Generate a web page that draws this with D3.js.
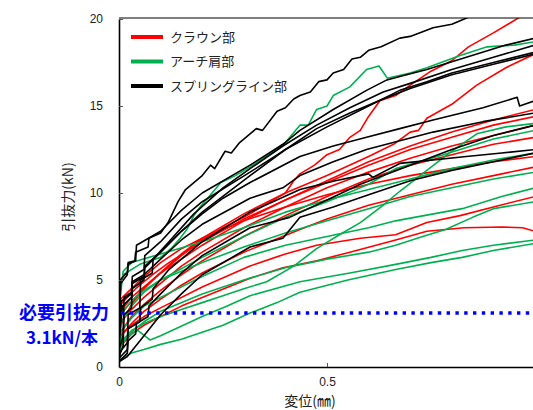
<!DOCTYPE html>
<html>
<head>
<meta charset="utf-8">
<script src="https://cdn.jsdelivr.net/npm/d3@7"></script>
<style>
  body { margin: 0; background: #fff; }
  svg { display: block; }
</style>
</head>
<body>
<div id="wrapper"></div>
<script>
// 変位(mm) と 引抜力(kN) の読み取り値
const crown1 = [[0,0.2],[0.004,2.4],[0.015,2.9],[0.03,3.6],[0.06,4.5],[0.1,5.4],[0.15,6.4],[0.2,7.3],[0.25,8.0],[0.3,8.6],[0.35,9.3],[0.4,10.0],[0.42,10.7],[0.435,11.1],[0.47,11.6],[0.5,12.2],[0.53,12.5],[0.555,13.2],[0.58,13.6],[0.6,14.4],[0.627,15.3],[0.665,15.6],[0.7,16.2],[0.75,17.0],[0.8,17.6],[0.84,18.4],[0.9,19.2],[0.97,20.2]];
const crown2 = [[0,0.5],[0.004,3.0],[0.02,3.5],[0.04,4.0],[0.08,5.0],[0.15,6.5],[0.2,7.4],[0.3,8.8],[0.4,10.0],[0.5,11.0],[0.6,12.1],[0.66,12.8],[0.7,13.5],[0.72,13.6],[0.74,14.3],[0.8,15.1],[0.86,16.2],[0.93,17.2],[1.0,18.0]];
const crown3 = [[0,0.4],[0.004,3.2],[0.03,4.0],[0.06,4.6],[0.1,5.4],[0.15,6.2],[0.2,7.0],[0.3,8.4],[0.4,9.6],[0.5,10.7],[0.6,11.8],[0.7,12.7],[0.8,13.5],[0.9,14.2],[1.0,14.8]];
const crown4 = [[0,0.8],[0.004,3.6],[0.04,4.5],[0.08,5.3],[0.12,6.0],[0.2,7.2],[0.3,8.5],[0.4,9.6],[0.5,10.6],[0.6,11.6],[0.7,12.5],[0.8,13.2],[0.9,13.9],[1.0,14.4]];
const crown5 = [[0,0.2],[0.004,2.6],[0.03,3.3],[0.06,4.0],[0.1,4.8],[0.15,5.8],[0.2,6.6],[0.3,8.0],[0.4,9.2],[0.5,10.3],[0.6,11.2],[0.7,12.0],[0.8,12.7],[0.9,13.3],[1.0,13.9]];
const crown6 = [[0,0.6],[0.004,2.0],[0.03,2.9],[0.06,3.6],[0.1,4.4],[0.15,5.3],[0.2,6.1],[0.3,7.5],[0.4,8.7],[0.5,9.8],[0.6,10.8],[0.7,11.6],[0.8,12.2],[0.9,12.8],[1.0,13.2]];
const crown7 = [[0,1.0],[0.004,3.9],[0.03,4.5],[0.06,5.2],[0.1,6.0],[0.15,6.8],[0.2,7.4],[0.3,8.4],[0.4,9.2],[0.5,9.9],[0.6,10.5],[0.7,11.0],[0.8,11.4],[0.9,11.8],[1.0,12.1]];
const crown8 = [[0,0.3],[0.004,1.8],[0.03,2.5],[0.06,3.2],[0.1,3.9],[0.15,4.7],[0.2,5.4],[0.3,6.6],[0.435,7.9],[0.5,8.5],[0.6,9.3],[0.7,9.9],[0.8,10.5],[0.9,11.0],[1.0,11.5]];
const crown9 = [[0,0.5],[0.004,1.8],[0.03,2.4],[0.06,2.9],[0.1,3.4],[0.2,4.6],[0.315,5.8],[0.4,6.5],[0.475,7.0],[0.58,7.4],[0.665,7.6],[0.74,8.3],[0.82,8.7],[0.9,9.2],[1.0,9.8]];
const crown10 = [[0,0.3],[0.004,1.2],[0.03,1.9],[0.06,2.4],[0.1,2.9],[0.15,3.5],[0.2,4.0],[0.315,5.1],[0.394,5.7],[0.475,6.1],[0.555,6.6],[0.665,7.3],[0.74,7.8],[0.83,8.0],[0.92,8.05],[0.97,8.0],[1.0,7.8]];

const arch1 = [[0,0.5],[0.003,4.5],[0.01,5.3],[0.05,5.9],[0.1,6.3],[0.125,6.8],[0.147,7.4],[0.163,7.9],[0.18,8.7],[0.195,9.2],[0.22,9.9],[0.245,10.6],[0.28,11.0],[0.315,11.5],[0.36,12.2],[0.4,12.9],[0.435,13.9],[0.455,13.9],[0.475,14.8],[0.5,15.0],[0.515,15.6],[0.555,16.1],[0.595,17.1],[0.625,17.3],[0.645,16.6],[0.7,16.9],[0.74,17.2],[0.82,17.9],[0.885,18.4],[0.95,18.5],[1.0,18.7]];
const arch2 = [[0,0.3],[0.004,1.4],[0.03,2.1],[0.06,2.5],[0.1,2.9],[0.15,3.3],[0.2,3.7],[0.25,4.1],[0.3,4.5],[0.355,4.9],[0.42,5.8],[0.475,6.8],[0.53,7.6],[0.58,8.3],[0.63,9.2],[0.675,10.1],[0.74,11.3],[0.8,12.4],[0.86,13.4],[0.93,13.8],[1.0,14.0]];
const arch3 = [[0,0.5],[0.004,2.5],[0.03,3.5],[0.06,4.3],[0.1,5.0],[0.2,6.3],[0.3,7.5],[0.4,8.6],[0.5,9.5],[0.6,10.5],[0.665,11.4],[0.78,12.2],[0.9,13.1],[1.0,13.6]];
const arch4 = [[0,0.8],[0.003,4.0],[0.01,5.5],[0.03,6.0],[0.1,6.5],[0.2,7.2],[0.3,8.0],[0.4,8.9],[0.5,9.6],[0.6,10.2],[0.7,10.8],[0.8,11.4],[0.9,11.9],[1.0,12.3]];
const arch5 = [[0,0.6],[0.004,3.0],[0.03,3.8],[0.06,4.4],[0.1,5.0],[0.2,6.0],[0.3,6.9],[0.4,7.7],[0.5,8.4],[0.6,9.1],[0.7,9.8],[0.8,10.3],[0.9,10.8],[1.0,11.2]];
const arch6 = [[0,0.4],[0.004,2.0],[0.03,2.8],[0.06,3.5],[0.1,4.0],[0.2,5.2],[0.3,6.3],[0.4,7.0],[0.5,7.5],[0.6,8.0],[0.665,8.4],[0.71,8.6],[0.825,9.1],[0.92,9.8],[1.0,10.3]];
const arch7 = [[0,0.2],[0.004,1.2],[0.03,2.0],[0.06,2.6],[0.1,3.2],[0.2,4.2],[0.3,5.0],[0.4,5.7],[0.5,6.2],[0.6,6.6],[0.665,7.0],[0.73,7.5],[0.785,7.9],[0.85,8.6],[0.9,9.1],[1.0,9.5]];
const arch8 = [[0,0.5],[0.004,1.3],[0.03,1.9],[0.045,2.1],[0.075,1.55],[0.1,1.8],[0.2,2.9],[0.26,3.5],[0.315,4.1],[0.435,4.9],[0.555,5.4],[0.665,5.9],[0.75,6.3],[0.825,6.7],[0.9,7.0],[1.0,7.3]];
const arch9 = [[0,0.4],[0.03,0.8],[0.06,1.0],[0.1,1.3],[0.15,1.6],[0.2,2.0],[0.25,2.4],[0.315,3.1],[0.38,3.7],[0.435,4.3],[0.55,5.0],[0.665,5.6],[0.75,6.0],[0.825,6.3],[0.9,6.7],[1.0,7.1]];

const spring1 = [[0,0.5],[0.003,5.0],[0.014,5.3],[0.02,5.4],[0.022,6.0],[0.038,6.1],[0.04,6.6],[0.07,6.9],[0.072,7.4],[0.1,7.7],[0.118,8.3],[0.142,9.5],[0.16,10.2],[0.2,11.0],[0.22,11.6],[0.23,11.4],[0.255,12.4],[0.27,12.3],[0.29,12.9],[0.315,13.4],[0.33,13.7],[0.345,13.6],[0.38,14.7],[0.4,14.9],[0.42,15.4],[0.435,15.6],[0.46,15.8],[0.48,16.4],[0.5,16.5],[0.515,16.9],[0.54,17.1],[0.56,17.7],[0.58,17.8],[0.6,18.2],[0.63,18.4],[0.675,18.9],[0.7,19.0],[0.755,19.5],[0.8,19.7],[0.84,20.1]];
const spring2 = [[0,2.0],[0.004,4.8],[0.02,5.3],[0.022,5.9],[0.04,6.1],[0.042,7.0],[0.1,7.8],[0.15,9.0],[0.2,10.0],[0.315,11.6],[0.394,12.8],[0.435,13.6],[0.515,14.8],[0.595,15.9],[0.644,16.5],[0.675,16.7],[0.74,17.1],[0.835,17.8],[0.93,18.5],[1.0,18.9]];
const spring3 = [[0,1.0],[0.01,1.8],[0.012,4.0],[0.03,4.3],[0.032,5.2],[0.06,5.6],[0.062,6.4],[0.1,7.2],[0.15,8.5],[0.2,9.5],[0.315,11.2],[0.394,12.4],[0.475,13.7],[0.555,14.6],[0.635,15.4],[0.7,16.0],[0.8,16.8],[0.9,17.4],[1.0,18.0]];
const spring4 = [[0,0.5],[0.02,1.0],[0.022,3.0],[0.05,3.4],[0.052,5.0],[0.08,5.4],[0.082,6.2],[0.12,7.2],[0.18,8.8],[0.25,10.3],[0.315,11.4],[0.394,12.7],[0.475,13.9],[0.555,14.9],[0.635,15.8],[0.7,16.3],[0.8,17.1],[0.9,17.8],[1.0,18.5]];
const spring5 = [[0,1.5],[0.008,3.5],[0.03,4.0],[0.032,4.8],[0.06,5.2],[0.062,5.8],[0.1,6.6],[0.15,7.8],[0.2,8.9],[0.315,11.0],[0.4,12.5],[0.5,13.8],[0.6,15.0],[0.675,15.9],[0.74,16.4],[0.8,16.9],[0.9,17.5],[1.0,18.1]];
const spring6 = [[0,0.6],[0.01,1.2],[0.012,3.0],[0.03,3.4],[0.032,4.5],[0.06,5.0],[0.062,5.7],[0.1,6.6],[0.15,7.8],[0.2,8.8],[0.25,9.7],[0.315,10.6],[0.435,12.1],[0.515,12.7],[0.595,13.2],[0.675,13.7],[0.755,14.2],[0.875,14.9],[0.957,15.5],[0.963,15.0],[1.0,15.3]];
const spring7 = [[0,1.2],[0.006,3.8],[0.03,4.2],[0.032,4.9],[0.06,5.3],[0.1,6.2],[0.15,7.3],[0.2,8.2],[0.315,9.7],[0.394,10.3],[0.435,11.0],[0.515,11.8],[0.595,12.5],[0.675,13.0],[0.755,13.5],[0.875,14.1],[1.0,14.6]];
const spring8 = [[0,0.8],[0.02,1.4],[0.022,2.2],[0.05,2.6],[0.052,3.4],[0.08,3.9],[0.082,4.5],[0.12,5.6],[0.2,7.2],[0.315,8.9],[0.435,10.2],[0.52,10.7],[0.6,11.1],[0.61,10.9],[0.675,11.7],[0.835,12.1],[0.92,12.3],[1.0,12.5]];
const spring9 = [[0,0.3],[0.02,0.8],[0.022,1.5],[0.04,1.9],[0.042,2.5],[0.07,2.9],[0.072,3.5],[0.1,4.2],[0.15,5.4],[0.2,6.4],[0.315,8.0],[0.41,8.6],[0.5,9.6],[0.58,10.5],[0.7,11.6],[0.8,12.5],[0.9,13.3],[1.0,13.9]];
const spring10 = [[0,0.3],[0.02,0.6],[0.05,1.5],[0.08,2.4],[0.1,3.0],[0.15,4.2],[0.2,5.3],[0.315,6.9],[0.394,7.4],[0.435,8.6],[0.515,9.2],[0.6,9.9],[0.7,10.7],[0.8,11.3],[0.9,11.8],[1.0,12.3]];

const groupNames = ["クラウン部", "アーチ肩部", "スプリングライン部"];
const groupColors = ["#FF0000", "#00B050", "#000000"];
const groupSeries = [
    [crown1, crown2, crown3, crown4, crown5, crown6, crown7, crown8, crown9, crown10],
    [arch1, arch2, arch3, arch4, arch5, arch6, arch7, arch8, arch9],
    [spring1, spring2, spring3, spring4, spring5, spring6, spring7, spring8, spring9, spring10]
];

const xTicks = [0, 0.5];
const yTicks = [0, 5, 10, 15, 20];
const requiredForce = 3.1;

function drawChart() {
    let dimensions = {
        width: 533,
        height: 410,
        margin: { top: 19, right: -2, bottom: 43, left: 119 }
    };
    dimensions.boundedWidth = dimensions.width - dimensions.margin.left - dimensions.margin.right;
    dimensions.boundedHeight = dimensions.height - dimensions.margin.top - dimensions.margin.bottom;

    const wrapper = d3.select("#wrapper")
        .append("svg")
        .attr("width", dimensions.width)
        .attr("height", dimensions.height);

    const bounds = wrapper.append("g")
        .attr("transform", `translate(${dimensions.margin.left},${dimensions.margin.top})`);

    const xScale = d3.scaleLinear()
        .domain([0, 1])
        .range([0, dimensions.boundedWidth]);
    const yScale = d3.scaleLinear()
        .domain([0, 20])
        .range([dimensions.boundedHeight, 0]);

    bounds.append("clipPath")
        .attr("id", "plot-clip")
        .append("rect")
        .attr("x", 0)
        .attr("y", -1)
        .attr("width", dimensions.boundedWidth)
        .attr("height", dimensions.boundedHeight + 1);

    const lineGenerator = d3.line()
        .x(d => xScale(d[0]))
        .y(d => yScale(d[1]));

    const curves = bounds.append("g")
        .attr("clip-path", "url(#plot-clip)");

    groupSeries.forEach((seriesList, i) => {
        curves.append("g")
            .selectAll("path")
            .data(seriesList)
            .join("path")
            .attr("d", lineGenerator)
            .attr("fill", "none")
            .attr("stroke", groupColors[i])
            .attr("stroke-width", 1.6)
            .attr("stroke-linejoin", "round");
    });

    // 必要引抜力ライン
    bounds.append("line")
        .attr("x1", xScale(0) + 2)
        .attr("x2", dimensions.boundedWidth)
        .attr("y1", yScale(requiredForce))
        .attr("y2", yScale(requiredForce))
        .attr("stroke", "#0000FF")
        .attr("stroke-width", 3.4)
        .attr("stroke-dasharray", "3.4 5.4");

    // frame
    bounds.append("line")
        .attr("x1", 0).attr("x2", dimensions.boundedWidth)
        .attr("y1", -1).attr("y2", -1)
        .attr("stroke", "#000").attr("stroke-width", 1.2);

    const xAxis = d3.axisBottom(xScale)
        .tickValues(xTicks)
        .tickSizeInner(-4)
        .tickSizeOuter(0)
        .tickPadding(10)
        .tickFormat(d3.format("~g"));
    const xAxisGroup = bounds.append("g")
        .attr("transform", `translate(0,${dimensions.boundedHeight})`)
        .call(xAxis);

    const yAxis = d3.axisLeft(yScale)
        .tickValues(yTicks)
        .tickSizeInner(-4)
        .tickSizeOuter(0)
        .tickPadding(16);
    const yAxisGroup = bounds.append("g")
        .call(yAxis);

    [xAxisGroup, yAxisGroup].forEach(g => {
        g.select(".domain").attr("stroke", "#000").attr("stroke-width", 1.6);
        g.selectAll(".tick line").attr("stroke", "#555");
        g.selectAll(".tick text")
            .attr("fill", "#222")
            .style("font-family", "'Liberation Sans', Arial, sans-serif")
            .style("font-size", "12px");
    });
    xAxisGroup.selectAll(".tick line").filter(d => d === 0).remove();
    yAxisGroup.selectAll(".tick line").filter(d => d === 0).remove();

    // axis titles
    wrapper.append("text")
        .attr("transform", "translate(73,197) rotate(-90)")
        .attr("text-anchor", "middle")
        .style("font-family", "'Noto Sans CJK JP', sans-serif")
        .style("font-size", "14px")
        .attr("fill", "#222")
        .text("引抜力(kN)");

    wrapper.append("text")
        .attr("x", 310)
        .attr("y", 406)
        .attr("text-anchor", "middle")
        .style("font-family", "'Noto Sans CJK JP', sans-serif")
        .style("font-size", "14px")
        .attr("fill", "#222")
        .text("変位(㎜)");

    // annotation
    const note = wrapper.append("g")
        .attr("fill", "#0000FF")
        .style("font-family", "'Noto Sans CJK JP', sans-serif")
        .style("font-weight", "bold")
        .attr("text-anchor", "middle");
    note.append("text")
        .attr("x", 64)
        .attr("y", 319)
        .style("font-size", "18px")
        .text("必要引抜力");
    note.append("text")
        .attr("x", 62)
        .attr("y", 344)
        .style("font-size", "17px")
        .text(`${requiredForce}kN/本`);

    // legend
    const legend = wrapper.append("g")
        .attr("transform", "translate(131,37)");
    const legendItem = legend.selectAll("g")
        .data(groupNames)
        .join("g")
        .attr("transform", (d, i) => `translate(0,${i * 24.5})`);
    legendItem.append("line")
        .attr("x1", 0).attr("x2", 32)
        .attr("stroke", (d, i) => groupColors[i])
        .attr("stroke-width", 4);
    legendItem.append("text")
        .attr("x", 39)
        .attr("dy", "0.35em")
        .style("font-family", "'Noto Sans CJK JP', sans-serif")
        .style("font-size", "13px")
        .attr("fill", "#222")
        .text(d => d);
}
drawChart();
</script>
</body>
</html>
